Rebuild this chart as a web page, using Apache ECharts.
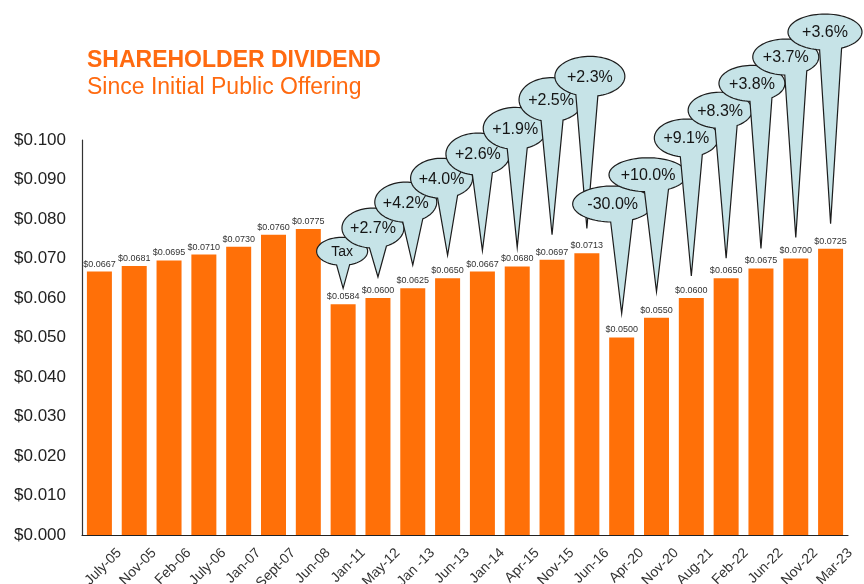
<!DOCTYPE html>
<html><head><meta charset="utf-8">
<script src="https://cdn.jsdelivr.net/npm/echarts@6/dist/echarts.min.js"></script>
<style>html,body{margin:0;padding:0;background:#fff}#c{width:864px;height:584px}</style>
</head><body><div id="c"></div>
<script>
// ---- data ----
const categories = ['July-05','Nov-05','Feb-06','July-06','Jan-07','Sept-07','Jun-08','Jan-11','May-12','Jan -13','Jun-13','Jan-14','Apr-15','Nov-15','Jun-16','Apr-20','Nov-20','Aug-21','Feb-22','Jun-22','Nov-22','Mar-23'];
const dividends = [0.0667,0.0681,0.0695,0.0710,0.0730,0.0760,0.0775,0.0584,0.0600,0.0625,0.0650,0.0667,0.0680,0.0697,0.0713,0.0500,0.0550,0.0600,0.0650,0.0675,0.0700,0.0725];
const calloutLabels = ['Tax','+2.7%','+4.2%','+4.0%','+2.6%','+1.9%','+2.5%','+2.3%','-30.0%','+10.0%','+9.1%','+8.3%','+3.8%','+3.7%','+3.6%'];
const calloutCategories = ['Jan-11','May-12','Jan -13','Jun-13','Jan-14','Apr-15','Nov-15','Jun-16','Apr-20','Nov-20','Aug-21','Feb-22','Jun-22','Nov-22','Mar-23'];
const yMin = 0, yMax = 0.1, yStep = 0.01;
const titleText = 'SHAREHOLDER DIVIDEND';
const subtitleText = 'Since Initial Public Offering';

// ---- bubble layout (pixel offsets from bar top: dx, dy, rx, ry, tipGap, baseHalfWidth, fontSize) ----
const bubbleLayout = [
  [-1,-53,25.5,14,16,6.5,14],
  [-5,-70,31,20,21,8.5,16],
  [-7,-86,31,20,23,10,16],
  [-6,-100,31,20,23,10,16],
  [-4.5,-117.5,32,21,21,10,16],
  [-2,-138,32,21,19,10,16],
  [-1,-160,32,22,25,11,16],
  [3,-177,35,20,25,11,16],
  [-9,-133.5,40,18,24,11,16],
  [-8.5,-143,39,17,26,12,16],
  [-5,-160,32,19,22,11,16],
  [-6,-168,32,18,20,11,16],
  [-9,-185,33,18,20,11,16],
  [-10,-201.5,33,18,21,11,16],
  [-5.6,-216.6,37,18,25,11,16]
];

const FONT = "'Liberation Sans', Arial, Helvetica, sans-serif";
const ORANGE = '#ff7008';
const TITLE_ORANGE = '#ff6a10';

const calloutData = calloutCategories.map(c => {
  const i = categories.indexOf(c);
  return [i, dividends[i]];
});

function renderBubble(params, api) {
  const i = params.dataIndex;
  const p = api.coord([api.value(0), api.value(1)]);
  const L = bubbleLayout[i];
  const cx = p[0] + L[0], cy = p[1] + L[1], rx = L[2], ry = L[3];
  const tip = [p[0], p[1] - L[4]];
  let xL = tip[0] - L[5], xR = tip[0] + L[5];
  xL = Math.max(cx - rx * 0.95, Math.min(cx + rx * 0.95, xL));
  xR = Math.max(cx - rx * 0.95, Math.min(cx + rx * 0.95, xR));
  const tR = Math.acos((xR - cx) / rx);
  const tL = Math.acos((xL - cx) / rx) - 2 * Math.PI;
  const pts = [];
  const N = 72;
  for (let k = 0; k <= N; k++) {
    const t = tR + (tL - tR) * k / N;
    pts.push([cx + rx * Math.cos(t), cy + ry * Math.sin(t)]);
  }
  pts.push(tip);
  return {
    type: 'group',
    children: [
      { type: 'polygon', shape: { points: pts },
        style: { fill: '#c6e3e7', stroke: '#1c1c1c', lineWidth: 1.2 } },
      { type: 'text', x: cx, y: cy + 1,
        style: { text: calloutLabels[i], fill: '#151515', font: L[6] + 'px ' + FONT,
                 align: 'center', verticalAlign: 'middle' } }
    ]
  };
}

const chart = echarts.init(document.getElementById('c'), null, { renderer: 'canvas' });
chart.setOption({
  animation: false,
  backgroundColor: '#ffffff',
  title: {
    text: titleText, subtext: subtitleText,
    left: 82, top: 44, itemGap: 4,
    textStyle: { fontFamily: FONT, fontSize: 23, fontWeight: 'bold', color: TITLE_ORANGE },
    subtextStyle: { fontFamily: FONT, fontSize: 23, color: TITLE_ORANGE }
  },
  grid: { left: 82, right: 16, top: 140, bottom: 49, containLabel: false, outerBoundsMode: 'none' },
  xAxis: {
    type: 'category', data: categories,
    axisLine: { show: true, lineStyle: { color: '#222', width: 1.2 } },
    axisTick: { show: false },
    axisLabel: { interval: 0, rotate: 45, margin: -4, align: 'right', verticalAlign: 'top',
                 padding: [21, 0, 0, 0], fontFamily: FONT, fontSize: 14, color: '#333' }
  },
  yAxis: {
    type: 'value', min: yMin, max: yMax, interval: yStep,
    axisLine: { show: true, lineStyle: { color: '#333', width: 1.2 } },
    axisTick: { show: false },
    splitLine: { show: false },
    axisLabel: { margin: 16, fontFamily: FONT, fontSize: 17, color: '#222',
                 formatter: v => '$' + v.toFixed(3) }
  },
  series: [
    {
      type: 'bar', data: dividends, barWidth: 25,
      itemStyle: { color: ORANGE },
      label: { show: true, position: 'top', distance: 3, fontFamily: FONT, fontSize: 9, color: '#333',
               formatter: p => '$' + p.value.toFixed(4) }
    },
    {
      type: 'custom', data: calloutData, encode: { x: 0, y: 1 }, clip: false, z: 5,
      renderItem: renderBubble
    }
  ]
});
</script></body></html>
